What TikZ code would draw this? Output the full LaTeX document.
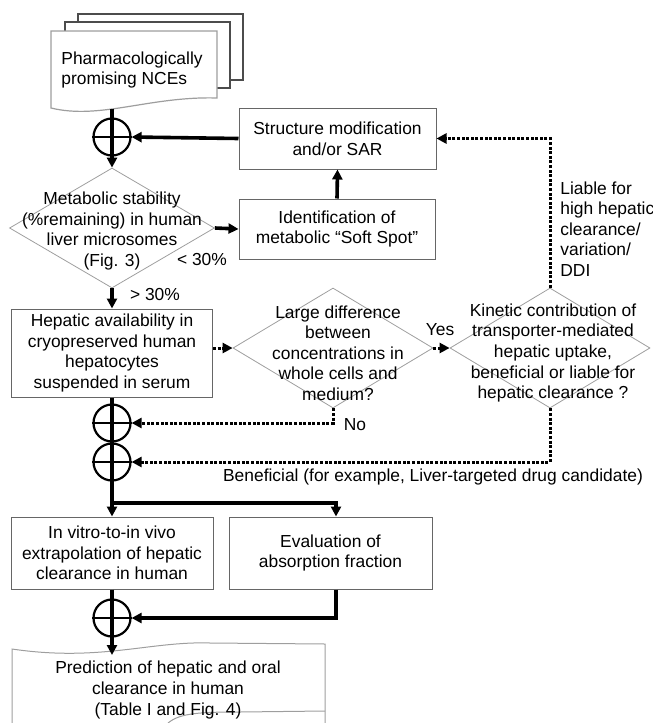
\documentclass[tikz,border=0pt]{standalone}
\usepackage{fontspec}
\setmainfont{Liberation Sans}
\usetikzlibrary{shapes.geometric,arrows.meta}
\definecolor{boxgray}{gray}{0.4}
\definecolor{dmdgray}{gray}{0.62}
\definecolor{pagegray}{gray}{0.3}
\begin{document}
\begin{tikzpicture}[x=0.5pt,y=-0.5pt,
    font=\fontsize{8.7pt}{10.3pt}\selectfont,
    box/.style={draw=boxgray,line width=0.5pt,fill=white,align=center,inner sep=0pt},
    dmd/.style={diamond,draw=dmdgray,line width=0.4pt,inner sep=0pt},
    txt/.style={align=center,inner sep=0pt},
    sum/.style={circle,draw,line width=1.1pt,minimum size=18.5pt,inner sep=0pt},
    flow/.style={line width=1.8pt,-{Triangle[length=5pt,width=5pt]}},
    plain/.style={line width=1.8pt},
    dotflow/.style={line width=1.5pt,dash pattern=on 1.5pt off 0.8pt,-{Triangle[length=5pt,width=5pt]}}]
    \useasboundingbox (0,0) rectangle (653,723);
    % stacked pages
    \draw[pagegray,line width=0.6pt] (78,22) -- (78,14) -- (243,14) -- (243,80) -- (230,80);
    \draw[pagegray,line width=0.6pt] (65,31) -- (65,22) -- (230,22) -- (230,88) -- (217,88);
    \filldraw[fill=white,draw=dmdgray,line width=0.6pt] (51,31) -- (217,31) -- (217,98) .. controls (150,96) and (100,120) .. (51,108) -- cycle;
    \node[anchor=west,align=left,inner sep=0pt] (nce) at (61,70) {Pharmacologically\\promising NCEs};
    \coordinate (ncebot) at (112,109);
    % last page
    \draw[dmdgray,line width=0.5pt] (12,723) -- (12,649) .. controls (100,662) and (150,641) .. (210,643) -- (325,644) -- (325,723);
    \draw[dmdgray,line width=0.5pt] (168,723) .. controls (180,713) and (200,712) .. (240,712) -- (325,711);
    \coordinate (predtop) at (112,655);

    \node[sum] (p1) at (112,137) {};
    \node[sum] (p2) at (112,423) {};
    \node[sum] (p3) at (112,462) {};
    \node[sum] (p4) at (112,618) {};
    \foreach \p in {p1,p2,p3,p4}
        \draw[line width=1.1pt] (\p.west) -- (\p.east);

    \node[dmd,minimum width=102.5pt,minimum height=60pt] (d1) at (112,228) {};
    \node[dmd,minimum width=100pt,minimum height=60pt] (d2) at (333,348) {};
    \node[dmd,minimum width=100pt,minimum height=60pt] (d3) at (550,348) {};
    \node[txt] (d1t) at (112,231) {Metabolic stability\\(\%remaining) in human\\liver microsomes\\(Fig. 3)};
    \node[txt] (d2t) at (338,353) {Large difference\\between\\concentrations in\\whole cells and\\medium?};
    \node[txt] (d3t) at (553,353) {Kinetic contribution of\\transporter-mediated\\hepatic uptake,\\beneficial or liable for\\hepatic clearance ?};

    \node[box,minimum width=98.5pt,minimum height=30.5pt] (struct) at (337.5,138.5) {Structure modification\\and/or SAR};
    \node[box,minimum width=98pt,minimum height=30pt] (ident) at (337,229) {Identification of\\metabolic “Soft Spot”};
    \node[box,minimum width=100.5pt,minimum height=44pt] (hep) at (112,353) {Hepatic availability in\\cryopreserved human\\hepatocytes\\suspended in serum};
    \node[box,minimum width=101pt,minimum height=36pt] (vitro) at (112,553) {In vitro-to-in vivo\\extrapolation of hepatic\\clearance in human};
    \node[box,minimum width=101.5pt,minimum height=36pt] (evalb) at (330.5,553) {Evaluation of\\absorption fraction};
    \node[txt] (pred) at (168,690) {Prediction of hepatic and oral\\clearance in human\\(Table I and Fig. 4)};

    \node[txt] (lt30) at (202,260) {< 30\%};
    \node[txt] (gt30) at (155,295) {> 30\%};
    \node[txt] (yes) at (440,330) {Yes};
    \node[txt] (no) at (355,425) {No};
    \node[txt] (benef) at (433,477) {Beneficial (for example, Liver-targeted drug candidate)};
    \node[anchor=west,align=left,inner sep=0pt] (liable) at (560,229) {Liable for\\high hepatic\\clearance/\\variation/\\DDI};

    \coordinate (brL) at (112,503);
    \coordinate (brR) at (336,503);

    \draw[flow] (ncebot) -- (d1.north);
    \draw[flow] (struct.west) -- (p1.east);
    \draw[flow] (ident.north) -- (struct.south);
    \draw[flow] (d1.east) -- (ident.west);
    \draw[flow] (d1.south) -- (hep.north);
    \draw[dotflow] (hep.east |- d2.west) -- (d2.west);
    \draw[dotflow] (d2.east) -- (d3.west);
    \draw[dotflow] (d2.south) |- (p2.east);
    \draw[dotflow] (d3.south) |- (p3.east);
    \draw[dotflow] (d3.north) |- (struct.east);
    \draw[plain] (hep.south) -- (brL);
    \draw[flow] (brL) -- (vitro.north);
    \draw[flow] (brL) -- (brR) -- (brR |- evalb.north);
    \draw[flow] (brR |- evalb.south) |- (p4.east);
    \draw[flow] (vitro.south) -- (predtop);
\end{tikzpicture}
\end{document}
